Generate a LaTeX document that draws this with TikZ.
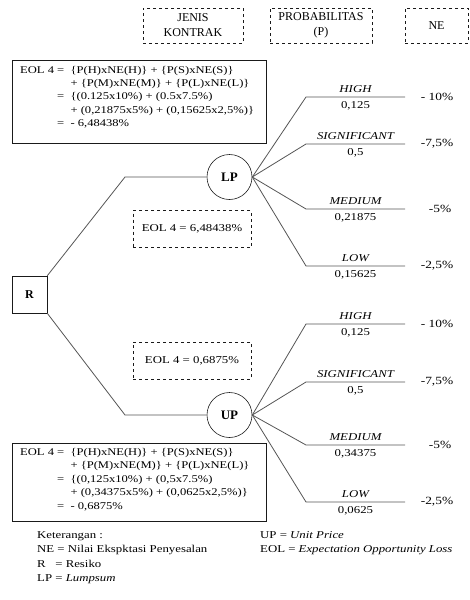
\documentclass[tikz,border=0pt]{standalone}
\usepackage{fontspec}
\setmainfont{Liberation Serif}
\newfontfamily\widefont{Liberation Serif}[FakeStretch=1.22]
\usepackage{tikz}
\usepackage{xcolor}
\usetikzlibrary{positioning,calc}
\definecolor{ink}    {HTML}{1A1A1A}
\definecolor{lineink}{HTML}{555555}
\tikzset{
  hdrbox/.style   ={draw=ink, dashed, line width=0.6pt,
                    align=center, font=\fontsize{12}{15}\selectfont, inner sep=0pt},
  eolbox/.style   ={draw=ink, line width=1.2pt, anchor=north west,
                    minimum width=254pt, minimum height=83pt, inner sep=0pt},
  calctext/.style ={anchor=north west, inner sep=0pt,
                    font=\widefont\fontsize{10.3}{13.4}\selectfont},
  resbox/.style   ={draw=ink, dashed, line width=0.6pt,
                    minimum width=118pt, minimum height=37pt,
                    font=\widefont\fontsize{10.5}{12}\selectfont, inner sep=2pt},
  chance/.style   ={draw=ink, circle, line width=0.6pt, minimum size=45pt,
                    inner sep=0pt, font=\fontsize{13}{14}\selectfont\bfseries},
  decbox/.style   ={draw=ink, line width=0.6pt, minimum width=35pt, minimum height=37pt,
                    inner sep=0pt, font=\fontsize{12}{14}\selectfont\bfseries},
  branch/.style   ={draw=lineink, line width=0.8pt},
  toplbl/.style   ={above=3pt, font=\widefont\fontsize{10.5}{12}\selectfont\itshape, inner sep=1pt},
  botlbl/.style   ={below=3pt, font=\widefont\fontsize{10.5}{12}\selectfont, inner sep=1pt},
  nelbl/.style    ={font=\widefont\fontsize{11}{12}\selectfont, inner sep=0pt},
  legend/.style   ={anchor=north west, align=left, inner sep=0pt,
                    font=\widefont\fontsize{10.5}{14.6}\selectfont},
}

\begin{document}
\begin{tikzpicture}[x=1pt,y=-1pt]
    \useasboundingbox (0,0) rectangle (470,600);

    % column headings
    \node[hdrbox,minimum width=100pt,minimum height=35pt] (hjenis) at (193,25.5) {JENIS\\KONTRAK};
    \node[hdrbox,minimum width=102pt,minimum height=35pt] (hprob)  at (321,25.5) {PROBABILITAS\\(P)};
    \node[hdrbox,minimum width=63pt,minimum height=35pt]  (hne)    at (436.5,25.5) {NE};

    % decision and chance nodes
    \node[decbox] (r)  at (29.5,294.5) {R};
    \node[chance] (lp) at (229.5,177) {LP};
    \node[chance] (up) at (229.5,415) {UP};
    \coordinate (lpbend) at (125,177);
    \coordinate (upbend) at (125,415);
    \draw[branch] (r.north east) -- (lpbend) -- (lp.west);
    \draw[branch] (r.south east) -- (upbend) -- (up.west);

    % LP branches
    \coordinate (lph1) at (306,97);  \coordinate (lph2) at (405,97);
    \coordinate (lps1) at (306,144); \coordinate (lps2) at (405,144);
    \coordinate (lpm1) at (306,209); \coordinate (lpm2) at (405,209);
    \coordinate (lpl1) at (306,266); \coordinate (lpl2) at (405,266);
    \draw[branch] (lp.east) -- (lph1) -- node[toplbl]{HIGH}        node[botlbl]{0,125}   (lph2);
    \draw[branch] (lp.east) -- (lps1) -- node[toplbl]{SIGNIFICANT} node[botlbl]{0,5}     (lps2);
    \draw[branch] (lp.east) -- (lpm1) -- node[toplbl]{MEDIUM}      node[botlbl]{0,21875} (lpm2);
    \draw[branch] (lp.east) -- (lpl1) -- node[toplbl]{LOW}         node[botlbl]{0,15625} (lpl2);
    \node[nelbl] (lphne) at (437,97)  {- 10\%};
    \node[nelbl] (lpsne) at (437,144) {-7,5\%};
    \node[nelbl] (lpmne) at (440,209) {-5\%};
    \node[nelbl] (lplne) at (437,266) {-2,5\%};

    % UP branches
    \coordinate (uph1) at (306,324); \coordinate (uph2) at (405,324);
    \coordinate (ups1) at (306,382); \coordinate (ups2) at (405,382);
    \coordinate (upm1) at (306,445); \coordinate (upm2) at (405,445);
    \coordinate (upl1) at (306,502); \coordinate (upl2) at (405,502);
    \draw[branch] (up.east) -- (uph1) -- node[toplbl]{HIGH}        node[botlbl]{0,125}   (uph2);
    \draw[branch] (up.east) -- (ups1) -- node[toplbl]{SIGNIFICANT} node[botlbl]{0,5}     (ups2);
    \draw[branch] (up.east) -- (upm1) -- node[toplbl]{MEDIUM}      node[botlbl]{0,34375} (upm2);
    \draw[branch] (up.east) -- (upl1) -- node[toplbl]{LOW}         node[botlbl]{0,0625}  (upl2);
    \node[nelbl] (uphne) at (437,324) {- 10\%};
    \node[nelbl] (upsne) at (437,382) {-7,5\%};
    \node[nelbl] (upmne) at (440,445) {-5\%};
    \node[nelbl] (uplne) at (437,502) {-2,5\%};

    % results
    \node[resbox] (lpres) at (192,229) {EOL 4 = 6,48438\%};
    \node[resbox] (upres) at (192,360.5) {EOL 4 = 0,6875\%};

    % calculations
    \node[eolbox] (lpcalc) at (12,60) {};
    \node[calctext] (lpcalct) at (20,63.5)
      {\begin{tabular}{@{}r@{\ \ }l@{}}
         EOL 4 = & \{P(H)xNE(H)\} + \{P(S)xNE(S)\}\\
                 & + \{P(M)xNE(M)\} + \{P(L)xNE(L)\}\\
               = & \{(0.125x10\%) + (0.5x7.5\%)\\
                 & + (0,21875x5\%) + (0,15625x2,5\%)\}\\
               = & - 6,48438\%
       \end{tabular}};
    \node[eolbox,minimum height=78pt] (upcalc) at (12,443) {};
    \node[calctext] (upcalct) at (20,446)
      {\begin{tabular}{@{}r@{\ \ }l@{}}
         EOL 4 = & \{P(H)xNE(H)\} + \{P(S)xNE(S)\}\\
                 & + \{P(M)xNE(M)\} + \{P(L)xNE(L)\}\\
               = & \{(0,125x10\%) + (0,5x7.5\%)\\
                 & + (0,34375x5\%) + (0,0625x2,5\%)\}\\
               = & - 0,6875\%
       \end{tabular}};

    % legend
    \node[legend] (legl) at (37,531)
      {Keterangan :\\NE = Nilai Ekspktasi Penyesalan\\R\ \ \ = Resiko\\LP = \textit{Lumpsum}};
    \node[legend] (legr) at (260,531)
      {UP = \textit{Unit Price}\\EOL = \textit{Expectation Opportunity Loss}};
  \end{tikzpicture}
\end{document}
